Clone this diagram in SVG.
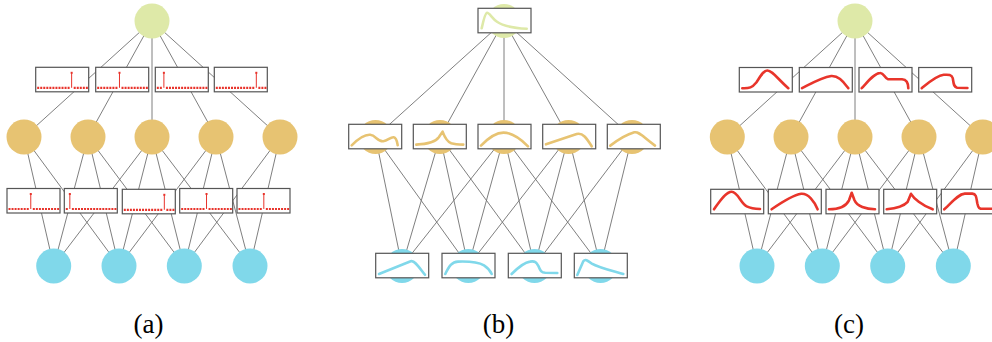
<svg xmlns="http://www.w3.org/2000/svg" width="992" height="342" viewBox="0 0 992 342">
<style>
.edge{stroke:#707070;stroke-width:0.9;fill:none}
.g{fill:#dee9a8}.o{fill:#e7c372}.c{fill:#80d8ea}
.box{fill:#fff;stroke:#555;stroke-width:1.2}
.dots{stroke:#e8332b;stroke-width:2.2;stroke-dasharray:2 1.04;fill:none}
.stem{stroke:#e8332b;stroke-width:1;fill:none}
.tip{fill:#e8332b}
.cr{fill:none;stroke:#e8352b;stroke-width:2.6;stroke-linecap:round;stroke-linejoin:round}
.ct{fill:none;stroke:#e7c372;stroke-width:2.6;stroke-linecap:round;stroke-linejoin:round}
.cc{fill:none;stroke:#80d8ea;stroke-width:2.6;stroke-linecap:round;stroke-linejoin:round}
.cg{fill:none;stroke:#dee9a8;stroke-width:2.6;stroke-linecap:round;stroke-linejoin:round}
.lbl{font-family:"Liberation Serif","Times New Roman",serif;font-size:27px;text-anchor:middle;fill:#000}
</style>
<defs>
<rect id="bx" class="box" x="0" y="0" width="53" height="24.5"/>
</defs>

<g id="connectors">
<path class="edge" d="M152 21L24 137M152 21L88 137M152 21L152 137M152 21L216 137M152 21L280 137"/>
<path class="edge" d="M24 137L53.7 266M24 137L119 266M88 137L53.7 266M88 137L119 266M88 137L184.3 266M152 137L53.7 266M152 137L119 266M152 137L184.3 266M152 137L250 266M216 137L119 266M216 137L184.3 266M216 137L250 266M280 137L184.3 266M280 137L250 266"/>
<path class="edge" d="M504 21L375.5 137M504 21L440 137M504 21L504 137M504 21L568.5 137M504 21L632 137"/>
<path class="edge" d="M375.5 137L402 266M375.5 137L468.3 266M440 137L402 266M440 137L468.3 266M440 137L534.5 266M504 137L402 266M504 137L468.3 266M504 137L534.5 266M504 137L600.5 266M568.5 137L468.3 266M568.5 137L534.5 266M568.5 137L600.5 266M632 137L534.5 266M632 137L600.5 266"/>
<path class="edge" d="M855 21L727.3 137M855 21L791 137M855 21L855 137M855 21L919 137M855 21L982.7 137"/>
<path class="edge" d="M727.3 137L757 266M727.3 137L822.3 266M791 137L757 266M791 137L822.3 266M791 137L887.7 266M855 137L757 266M855 137L822.3 266M855 137L887.7 266M855 137L953.3 266M919 137L822.3 266M919 137L887.7 266M919 137L953.3 266M982.7 137L887.7 266M982.7 137L953.3 266"/>
</g>

<!-- ================= panel (a) ================= -->
<g id="a-top"><circle class="g" cx="152" cy="21" r="17.5"/></g>
<g id="a-m1"><circle class="o" cx="24" cy="137" r="17.5"/></g>
<g id="a-m2"><circle class="o" cx="88" cy="137" r="17.5"/></g>
<g id="a-m3"><circle class="o" cx="152" cy="137" r="17.5"/></g>
<g id="a-m4"><circle class="o" cx="216" cy="137" r="17.5"/></g>
<g id="a-m5"><circle class="o" cx="280" cy="137" r="17.5"/></g>
<g id="a-b1"><circle class="c" cx="53.7" cy="266" r="17.5"/></g>
<g id="a-b2"><circle class="c" cx="119" cy="266" r="17.5"/></g>
<g id="a-b3"><circle class="c" cx="184.3" cy="266" r="17.5"/></g>
<g id="a-b4"><circle class="c" cx="250" cy="266" r="17.5"/></g>

<g id="a-t1" transform="translate(35.7 67.3)"><use href="#bx"/>
<path class="dots" d="M1.5 20.5H34.9M38.0 20.5H52.2"/><path class="stem" d="M35.94 20.5V5.5"/><rect class="tip" x="34.94" y="4.5" width="2" height="2"/></g>
<g id="a-t2" transform="translate(95.7 67.3)"><use href="#bx"/>
<path class="dots" d="M1.5 20.5H22.74M25.82 20.5H52.2"/><path class="stem" d="M23.78 20.5V5.5"/><rect class="tip" x="22.78" y="4.5" width="2" height="2"/></g>
<g id="a-t3" transform="translate(155.3 67.3)"><use href="#bx"/>
<path class="dots" d="M1.5 20.5H7.54M10.62 20.5H52.2"/><path class="stem" d="M8.58 20.5V5.5"/><rect class="tip" x="7.58" y="4.5" width="2" height="2"/></g>
<g id="a-t4" transform="translate(214.3 67.3)"><use href="#bx"/>
<path class="dots" d="M1.5 20.5H40.98M44.06 20.5H52.2"/><path class="stem" d="M42.02 20.5V5.5"/><rect class="tip" x="41.02" y="4.5" width="2" height="2"/></g>

<g id="a-l1" transform="translate(7 188.5)"><use href="#bx"/>
<path class="dots" d="M1.5 20.5H22.74M25.82 20.5H52.2"/><path class="stem" d="M23.78 20.5V5.5"/><rect class="tip" x="22.78" y="4.5" width="2" height="2"/></g>
<g id="a-l2" transform="translate(64.3 188.5)"><use href="#bx"/>
<path class="dots" d="M1.5 20.5H3.5M7.58 20.5H52.2"/><path class="stem" d="M5.54 20.5V5.5"/><rect class="tip" x="4.54" y="4.5" width="2" height="2"/></g>
<g id="a-l3" transform="translate(122.3 189.3)"><use href="#bx"/>
<path class="dots" d="M1.5 20.5H40.98M44.06 20.5H52.2"/><path class="stem" d="M42.02 20.5V5.5"/><rect class="tip" x="41.02" y="4.5" width="2" height="2"/></g>
<g id="a-l4" transform="translate(179.7 188.5)"><use href="#bx"/>
<path class="dots" d="M1.5 20.5H25.78M28.86 20.5H52.2"/><path class="stem" d="M26.82 20.5V5.5"/><rect class="tip" x="25.82" y="4.5" width="2" height="2"/></g>
<g id="a-l5" transform="translate(237 188.5)"><use href="#bx"/>
<path class="dots" d="M1.5 20.5H25.78M28.86 20.5H52.2"/><path class="stem" d="M26.82 20.5V5.5"/><rect class="tip" x="25.82" y="4.5" width="2" height="2"/></g>

<!-- ================= panel (b) ================= -->
<g id="b-top"><circle class="g" cx="504" cy="21" r="17"/>
<g transform="translate(478 8.3)"><use href="#bx"/><path class="cg" d="M3.7 20C5 14 7 5 9 4.5C11 4 14 10 19 13.5C24 17 31 19.5 48.7 20.5"/></g></g>

<g id="b-m1"><circle class="o" cx="375.5" cy="137" r="17"/>
<g transform="translate(348.7 124.3)"><use href="#bx"/><path class="ct" d="M3 21C10 14 16 10 21.5 10.5C27 11 29 17.5 34.5 17C39 16.5 42 12.5 45 13C48 13.5 48.5 18 49 21"/></g></g>
<g id="b-m2"><circle class="o" cx="440" cy="137" r="17"/>
<g transform="translate(413.3 124.3)"><use href="#bx"/><path class="ct" d="M3 20.3C12 20 22 18 25.5 13L29.3 7.3C31 12 33 17 38 19C42 20.3 46 20.3 50 20.3"/></g></g>
<g id="b-m3"><circle class="o" cx="504" cy="137" r="17"/>
<g transform="translate(478 124.3)"><use href="#bx"/><path class="ct" d="M3 21.3C11 13 19 8.3 25.5 8.3C35 8.3 43 15 50 22"/></g></g>
<g id="b-m4"><circle class="o" cx="568.5" cy="137" r="17"/>
<g transform="translate(542.7 124.3)"><use href="#bx"/><path class="ct" d="M3.3 20L34 9.7C40 8 44 14 49 22"/></g></g>
<g id="b-m5"><circle class="o" cx="632" cy="137" r="17"/>
<g transform="translate(607.3 124.3)"><use href="#bx"/><path class="ct" d="M3 21.3C10 16 20 10 27 8C32 7 36 13 47.7 21.3"/></g></g>

<g id="b-b1"><circle class="c" cx="402" cy="266" r="17"/>
<g transform="translate(375.7 253.3)"><use href="#bx"/><path class="cc" d="M3.3 20.7L35 8C39 6.5 44 15 49.3 21.5"/></g></g>
<g id="b-b2"><circle class="c" cx="468.3" cy="266" r="17"/>
<g transform="translate(442 253.3)"><use href="#bx"/><path class="cc" d="M3.3 20.7C7 13 10 8.5 16 8.3C25 8 35 8 42 12C46 14.5 48.5 18 49.7 20.7"/></g></g>
<g id="b-b3"><circle class="c" cx="534.5" cy="266" r="17"/>
<g transform="translate(508.3 253.3)"><use href="#bx"/><path class="cc" d="M3.3 20.7C10 14 16 9 21.7 8.3C27 7.5 28 9 30 12.5C32 17.5 33 19.3 37 19.5L49 19.7"/></g></g>
<g id="b-b4"><circle class="c" cx="600.5" cy="266" r="17"/>
<g transform="translate(574.3 253.3)"><use href="#bx"/><path class="cc" d="M3 21.7L9 8C11 5.5 13 7 17 10C25 14.5 38 17.5 49 20.7"/></g></g>

<!-- ================= panel (c) ================= -->
<g id="c-top"><circle class="g" cx="855" cy="21" r="17.5"/></g>
<g id="c-m1"><circle class="o" cx="727.3" cy="137" r="17.5"/></g>
<g id="c-m2"><circle class="o" cx="791" cy="137" r="17.5"/></g>
<g id="c-m3"><circle class="o" cx="855" cy="137" r="17.5"/></g>
<g id="c-m4"><circle class="o" cx="919" cy="137" r="17.5"/></g>
<g id="c-m5"><circle class="o" cx="982.7" cy="137" r="17.5"/></g>
<g id="c-b1"><circle class="c" cx="757" cy="266" r="17.5"/></g>
<g id="c-b2"><circle class="c" cx="822.3" cy="266" r="17.5"/></g>
<g id="c-b3"><circle class="c" cx="887.7" cy="266" r="17.5"/></g>
<g id="c-b4"><circle class="c" cx="953.3" cy="266" r="17.5"/></g>

<g id="c-t1" transform="translate(739.3 67.5)"><use href="#bx"/><path class="cr" d="M3 20.7C10 21 13 20 17 15C21 9 24 3 28 3C33 3 38 11 49 20.7"/></g>
<g id="c-t2" transform="translate(799.3 67.5)"><use href="#bx"/><path class="cr" d="M2.7 20.7C12 16 22 10 32 8.5C40 8 45 16 49 20.7"/></g>
<g id="c-t3" transform="translate(859 67.5)"><use href="#bx"/><path class="cr" d="M2.7 20.7C9 14 15 6 21 5.5C25 5 25.5 11 29 11.7L43 11.7C47 12 49.3 14 49.3 20.7"/></g>
<g id="c-t4" transform="translate(918.7 67.5)"><use href="#bx"/><path class="cr" d="M3 20.7C10 15 18 8 25 7.3C30 7 33 7 34 10.5C35 15 34.5 19.5 38.5 20.2L48.7 20.5"/></g>

<g id="c-l1" transform="translate(710.7 189.3)"><use href="#bx"/><path class="cr" d="M3.3 20C9 12 15 2.5 21 2.5C27 2.5 30 14 36 17C40 19 44 19.5 49.3 19.7"/></g>
<g id="c-l2" transform="translate(768.3 189.3)"><use href="#bx"/><path class="cr" d="M3.3 20C12 14 24 6 33 4.5C40 4 46 12 49.3 20"/></g>
<g id="c-l3" transform="translate(826 189.3)"><use href="#bx"/><path class="cr" d="M3 20C12 20 20 17 23 11L25.7 3.5L28.5 11C31 17 40 20 49 20"/></g>
<g id="c-l4" transform="translate(883.7 189.3)"><use href="#bx"/><path class="cr" d="M3 20C12 19 20 17 24 12.5L27.3 4.5C30 9 38 16 49 20"/></g>
<g id="c-l5" transform="translate(941.3 189.3)"><use href="#bx"/><path class="cr" d="M3 20C10 14 16 5 23.5 4.3L31 4.3C35 4.5 35 8 36 14C37 19 38 19.5 42 19.5L51 19.5"/></g>

<g id="labels">
<text class="lbl" x="148.5" y="333">(a)</text>
<text class="lbl" x="498.5" y="333">(b)</text>
<text class="lbl" x="849" y="333">(c)</text>
</g>
</svg>
